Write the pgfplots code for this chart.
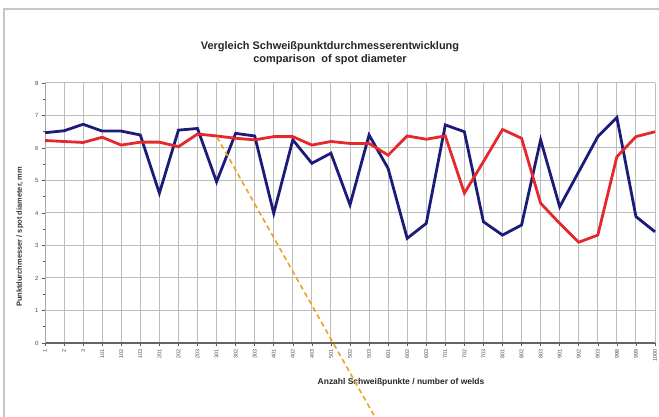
\documentclass[border=0pt]{standalone}
\usepackage{pgfplots}
\pgfplotsset{compat=1.18}
\usepackage{fontspec}
\setmainfont{Liberation Sans}
\definecolor{bluel}{HTML}{1C1C78}
\definecolor{redl}{HTML}{E4282C}
\definecolor{gridc}{HTML}{BDBDBD}
\definecolor{orangel}{HTML}{F0A020}
\pgfplotstableread{
i blue red
0 6.47 6.23
1 6.53 6.20
2 6.73 6.17
3 6.52 6.33
4 6.52 6.09
5 6.40 6.18
6 4.61 6.18
7 6.55 6.04
8 6.60 6.43
9 4.96 6.37
10 6.45 6.30
11 6.37 6.25
12 3.99 6.35
13 6.25 6.35
14 5.53 6.09
15 5.84 6.20
16 4.25 6.14
17 6.40 6.14
18 5.37 5.78
19 3.22 6.37
20 3.68 6.27
21 6.71 6.37
22 6.50 4.61
23 3.73 5.58
24 3.32 6.57
25 3.63 6.30
26 6.25 4.30
27 4.19 3.68
28 5.27 3.10
29 6.35 3.32
30 6.94 5.73
31 3.89 6.35
32 3.42 6.50
}\diam
\begin{document}
\begin{tikzpicture}
\path[use as bounding box] (0,0) rectangle (659bp,417bp);
\draw[gray!45, line width=1.5bp] (4bp,0) -- (4bp,408bp) -- (659bp,408bp);
\node[font=\bfseries\fontsize{11}{13}\selectfont, align=center, text=black!85] at (330bp,364bp)
  {Vergleich Schweißpunktdurchmesserentwicklung\\comparison\ \ of spot diameter};
\node[font=\bfseries\fontsize{7.5}{9}\selectfont, rotate=90, text=black!80] at (20bp,180bp)
  {Punktdurchmesser / spot diameter, mm};
\node[font=\bfseries\fontsize{8.5}{10}\selectfont, text=black!85] at (401bp,35bp)
  {Anzahl Schweißpunkte / number of welds};
\begin{axis}[
  at={(45bp,74bp)}, anchor=south west,
  width=610bp, height=260bp, scale only axis,
  xmin=0, xmax=32, ymin=0, ymax=8,
  xtick={0,...,32},
  xticklabels={1,2,3,101,102,103,201,202,203,301,302,303,401,402,403,501,502,503,601,602,603,701,702,703,801,802,803,901,902,903,998,999,1000},
  xticklabel style={rotate=90, anchor=east, font=\fontsize{5.5}{6}\selectfont, text=gray!60!black},
  ytick={0,...,8},
  minor y tick num=1,
  yticklabel style={font=\fontsize{6}{7}\selectfont, text=gray!60!black},
  /pgf/number format/assume math mode=true,
  grid=major,
  major grid style={gridc, line width=1bp},
  axis x line*=bottom, axis y line*=left,
  x axis line style={gray!80!black, line width=1.3bp, -},
  y axis line style={gray!70, line width=0.8bp, -},
  tick style={gray!70!black, line width=0.6bp},
  major tick length=3bp, minor tick length=2bp,
  tick align=outside,
  clip=false,
]
\addplot[bluel, line width=2.8bp] table[x=i, y=blue] {\diam};
\addplot[redl, line width=2.8bp] table[x=i, y=red] {\diam};
\addplot[orangel, line width=1.6bp, dash pattern=on 5bp off 3.5bp] coordinates {(9.02,6.34) (17.31,-2.28)};
\end{axis}
\end{tikzpicture}
\end{document}
